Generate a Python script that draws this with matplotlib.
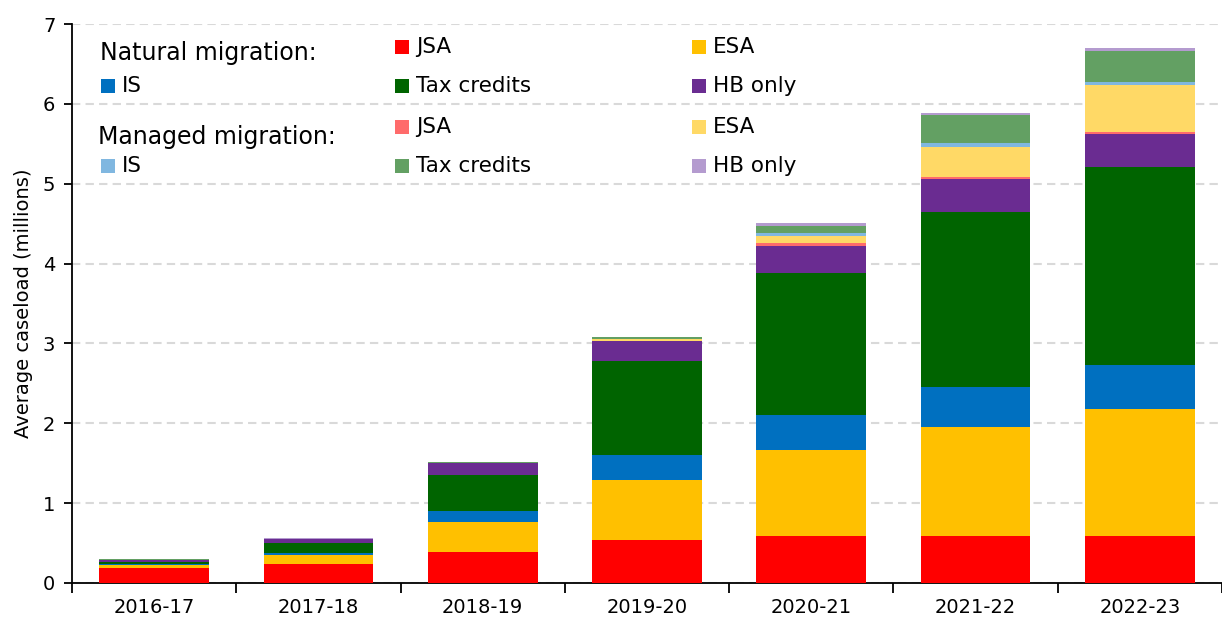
import numpy as np
from matplotlib import pyplot as plt
from matplotlib.patches import Rectangle

years = ['2016-17', '2017-18', '2018-19', '2019-20', '2020-21', '2021-22', '2022-23']

# natural migration (millions)
nat_jsa = [0.19, 0.24, 0.39, 0.54, 0.59, 0.59, 0.59]
nat_esa = [0.03, 0.11, 0.38, 0.75, 1.08, 1.36, 1.59]
nat_is = [0.02, 0.025, 0.13, 0.31, 0.43, 0.50, 0.555]
nat_tc = [0.025, 0.12, 0.45, 1.18, 1.78, 2.20, 2.47]
nat_hb = [0.02, 0.05, 0.15, 0.245, 0.345, 0.405, 0.42]

# managed migration (millions)
man_jsa = [0.002, 0.002, 0.002, 0.01, 0.03, 0.025, 0.02]
man_esa = [0.003, 0.003, 0.003, 0.015, 0.095, 0.375, 0.585]
man_is = [0.002, 0.002, 0.002, 0.01, 0.03, 0.05, 0.04]
man_tc = [0.003, 0.003, 0.003, 0.015, 0.095, 0.35, 0.395]
man_hb = [0.005, 0.005, 0.005, 0.01, 0.03, 0.03, 0.03]

labels = ['JSA', 'ESA', 'IS', 'Tax credits', 'HB only']
nat_cols = ['#FF0000', '#FFC000', '#0070C0', '#006400', '#6A2C91']
man_cols = ['#FF6B6B', '#FFD966', '#80B7E0', '#63A063', '#B49BCF']

W, H = 1222, 621
fig = plt.figure(figsize=(W / 100, H / 100), dpi=100)
ax = fig.add_axes([72 / W, 1 - 583 / H, 1 - 72 / W, (583 - 24) / H])

x = np.arange(len(years))
bottom = np.zeros(len(years))
series = [nat_jsa, nat_esa, nat_is, nat_tc, nat_hb, man_jsa, man_esa, man_is, man_tc, man_hb]
for vals, col in zip(series, nat_cols + man_cols):
	ax.bar(x, vals, 0.667, bottom=bottom, color=col, linewidth=0, zorder=3)
	bottom += np.array(vals)

ax.set_xlim(-0.5, (W - 72) / 166.0 - 0.5)
ax.set_ylim(0, 7)
ax.set_yticks(range(8))
ax.yaxis.grid(True, linestyle=(0, (4, 2.5)), color='#D9D9D9', linewidth=1.5, zorder=0)
ax.set_xticks(x)
ax.set_xticklabels(years, fontsize=14)
ax.set_xticks(np.arange(-0.5, len(years), 1), minor=True)
ax.tick_params(axis='x', which='major', length=0, pad=11)
ax.tick_params(axis='x', which='minor', length=7, width=1.3, direction='out')
ax.tick_params(axis='y', labelsize=14, length=6, width=1.3, pad=6)
for s in ['top', 'right']:
	ax.spines[s].set_visible(False)
for s in ['left', 'bottom']:
	ax.spines[s].set_linewidth(1.3)
ax.set_ylabel('Average caseload (millions)', fontsize=14, labelpad=7)

# hand-made legend
def px(xp, yp):
	return xp / W, 1 - yp / H

fig.text(*px(100, 53), 'Natural migration:', fontsize=17, va='center', ha='left')
fig.text(*px(98, 137), 'Managed migration:', fontsize=17, va='center', ha='left')

slots = [(395, 47), (692, 47), (101, 86), (395, 86), (692, 86)]
for off, cols in [(0, nat_cols), (80, man_cols)]:
	for (sx, sy), lab, col in zip(slots, labels, cols):
		fx, fy = px(sx, sy + off + 7)
		fig.patches.append(Rectangle((fx, fy), 14 / W, 14 / H, transform=fig.transFigure,
			facecolor=col, edgecolor='none'))
		fig.text(*px(sx + 21, sy + off), lab, fontsize=15.5, va='center', ha='left')

fig.savefig('out.png', dpi=100)
